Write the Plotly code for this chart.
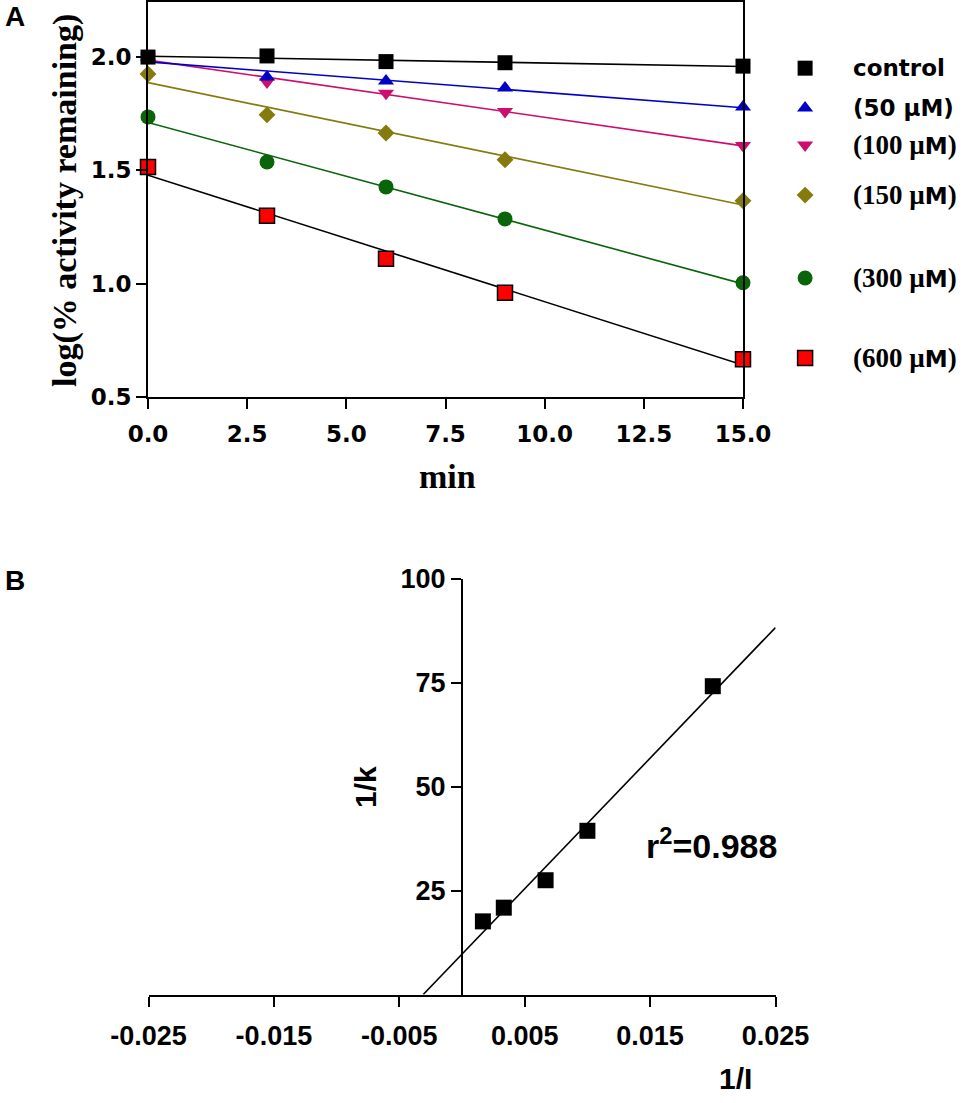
import numpy as np
import plotly.graph_objects as go

# ---- panel A data: log(% activity remaining) vs time ----
minutes = [0, 3, 6, 9, 15]
series_names = ["control", "(50 µM)", "(100 µM)", "(150 µM)", "(300 µM)", "(600 µM)"]
control = [2.00, 2.005, 1.98, 1.975, 1.96]
conc_50 = [2.00, 1.912, 1.894, 1.863, 1.78]
conc_100 = [2.00, 1.89, 1.84, 1.76, 1.61]
conc_150 = [1.925, 1.745, 1.665, 1.547, 1.366]
conc_300 = [1.736, 1.537, 1.427, 1.286, 1.004]
conc_600 = [1.515, 1.30, 1.11, 0.96, 0.667]

# ---- panel B data: 1/k vs 1/I ----
inv_conc = [1 / 600, 1 / 300, 1 / 150, 1 / 100, 1 / 50]
inv_k = [17.6, 20.9, 27.5, 39.4, 74.2]
r2_label = "r<sup>2</sup>=0.988"

# legend rows (panel A y units) and tick labels
legend_y = [1.951, 1.775, 1.612, 1.391, 1.025, 0.672]
a_xticks = [0, 2.5, 5, 7.5, 10, 12.5, 15]
a_yticks = [0.5, 1.0, 1.5, 2.0]
b_xticks = [-0.025, -0.015, -0.005, 0.005, 0.015, 0.025]
b_yticks = [25, 50, 75, 100]

styles = [
    dict(symbol="square", size=15, color="black", line=dict(width=0), lc="black"),
    dict(symbol="triangle-up", size=14, color="#0000C8", line=dict(width=0), lc="#0000C8"),
    dict(symbol="triangle-down", size=14, color="#CC0E6E", line=dict(width=0), lc="#CC0E6E"),
    dict(symbol="diamond", size=13, color="#857A0D", line=dict(width=0), lc="#857A0D"),
    dict(symbol="circle", size=15, color="#0A640A", line=dict(width=0), lc="#0A640A"),
    dict(symbol="square", size=15, color="#FF0000", line=dict(width=1.5, color="black"), lc="black"),
]
values = [control, conc_50, conc_100, conc_150, conc_300, conc_600]

SANS = "DejaVu Sans"
ARIAL = "Liberation Sans, Arial"
SERIF = "Liberation Serif, Times New Roman"

fig = go.Figure()

# draw highest concentration first so control sits on top
for i in reversed(range(len(values))):
    st = styles[i]
    slope, icpt = np.polyfit(minutes, values[i], 1)
    xs = [0, 15]
    fig.add_trace(go.Scatter(
        x=xs, y=[icpt + slope * v for v in xs], mode="lines",
        line=dict(color=st["lc"], width=1.6), xaxis="x", yaxis="y",
        showlegend=False, hoverinfo="skip"))
    fig.add_trace(go.Scatter(
        x=minutes, y=values[i], mode="markers", name=series_names[i],
        marker=dict(symbol=st["symbol"], size=st["size"], color=st["color"], line=st["line"]),
        xaxis="x", yaxis="y", cliponaxis=False, showlegend=False))

# hand-made legend, one marker per row
for i, st in enumerate(styles):
    fig.add_trace(go.Scatter(
        x=[0.5], y=[legend_y[i]], mode="markers",
        marker=dict(symbol=st["symbol"], size=st["size"], color=st["color"], line=st["line"]),
        xaxis="x3", yaxis="y", cliponaxis=False, showlegend=False, hoverinfo="skip"))

# panel B fit line from x-intercept to right end of axis
b_slope, b_icpt = np.polyfit(inv_conc, inv_k, 1)
bx = [-b_icpt / b_slope, 0.025]
fig.add_trace(go.Scatter(
    x=bx, y=[b_icpt + b_slope * v for v in bx], mode="lines",
    line=dict(color="black", width=1.6), xaxis="x2", yaxis="y2",
    showlegend=False, hoverinfo="skip"))
fig.add_trace(go.Scatter(
    x=inv_conc, y=inv_k, mode="markers",
    marker=dict(symbol="square", size=16, color="black"),
    xaxis="x2", yaxis="y2", cliponaxis=False, showlegend=False))

axis_common = dict(showgrid=False, zeroline=False, showline=True, linecolor="black",
                   linewidth=2, ticks="outside", ticklen=10, tickwidth=2, tickcolor="black",
                   automargin=False)

fig.update_layout(
    template="none",
    width=970, height=1103,
    margin=dict(l=0, r=0, t=0, b=0, autoexpand=False),
    paper_bgcolor="white", plot_bgcolor="white",
    showlegend=False,
    xaxis=dict(domain=[148 / 970, 743 / 970], range=[0, 15], anchor="y",
               tickvals=a_xticks, ticktext=[f"{v:.1f}" for v in a_xticks],
               tickfont=dict(family=SANS, size=23, color="black", weight="bold"),
               ticklabelstandoff=5, mirror=True, **axis_common),
    yaxis=dict(domain=[1 - 397 / 1103, 1 - 2 / 1103], range=[0.5, 2.243], anchor="x",
               tickvals=a_yticks, ticktext=[f"{v:.1f}" for v in a_yticks],
               tickfont=dict(family=SANS, size=23, color="black", weight="bold"),
               mirror=True, **axis_common),
    xaxis3=dict(domain=[0.81, 0.85], range=[0, 1], anchor="y", visible=False,
                showgrid=False, zeroline=False, automargin=False),
    xaxis2=dict(domain=[148.5 / 970, 775.5 / 970], range=[-0.025, 0.025], anchor="y2",
                tickvals=b_xticks, ticktext=[f"{v:.3f}" for v in b_xticks],
                tickfont=dict(family=ARIAL, size=27, color="black", weight="bold"),
                ticklabelstandoff=6, **axis_common),
    yaxis2=dict(domain=[1 - 994.5 / 1103, 1 - 579 / 1103], range=[0, 100],
                anchor="free", position=462 / 970,
                tickvals=b_yticks, ticktext=[str(v) for v in b_yticks],
                tickfont=dict(family=ARIAL, size=27, color="black", weight="bold"),
                **axis_common),
)

sans_b = dict(family=SANS, size=23, color="black", weight="bold")


def serif_label(txt):
    # digits in serif, "M" in sans, as in the original legend
    inner = txt.strip("()").replace(" µM", "")
    sp = '<span style="font-family:Liberation Serif;font-size:27px">'
    return f'{sp}({inner} µ</span>M{sp})</span>'


legend_text = [series_names[0], series_names[1]] + [serif_label(s) for s in series_names[2:]]
for i, t in enumerate(legend_text):
    fig.add_annotation(x=851 / 970, xref="paper", y=legend_y[i], yref="y", text=t,
                       showarrow=False, xanchor="left", yanchor="middle", font=sans_b)

annos = [
    dict(x=15 / 970, y=1 - 17 / 1103, text="A", font=dict(family=ARIAL, size=28, color="black", weight="bold")),
    dict(x=15 / 970, y=1 - 580 / 1103, text="B", font=dict(family=ARIAL, size=28, color="black", weight="bold")),
    dict(x=65 / 970, y=1 - 201 / 1103, text="log(% activity remaining)", textangle=-90,
         font=dict(family=SERIF, size=34, color="black", weight="bold")),
    dict(x=447 / 970, y=1 - 476 / 1103, text="min",
         font=dict(family=SERIF, size=34, color="black", weight="bold")),
    dict(x=365 / 970, y=1 - 787 / 1103, text="1/k", textangle=-90,
         font=dict(family=ARIAL, size=30, color="black", weight="bold")),
    dict(x=735 / 970, y=1 - 1078 / 1103, text="1/I",
         font=dict(family=ARIAL, size=30, color="black", weight="bold")),
    dict(x=711 / 970, y=1 - 843 / 1103, text=r2_label,
         font=dict(family=ARIAL, size=34, color="black", weight="bold")),
]
for a in annos:
    fig.add_annotation(xref="paper", yref="paper", showarrow=False,
                       xanchor="center", yanchor="middle", **a)

# drop the default page margin so the figure sits at the window corner
fig.write_html("out.html", config={"displayModeBar": False},
               post_script="document.body.style.margin='0px';")
